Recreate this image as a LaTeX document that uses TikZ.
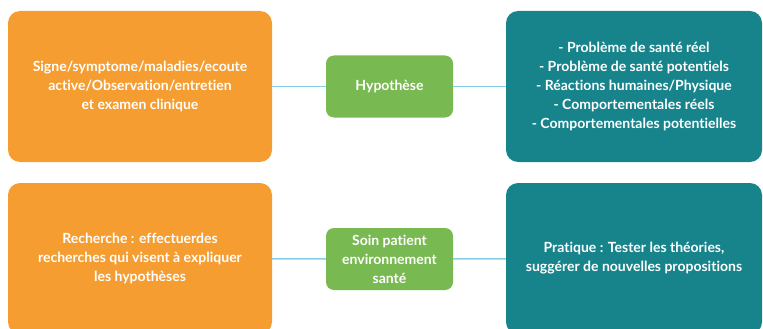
\documentclass[tikz,border=0pt]{standalone}
\usepackage{fontspec}
\setmainfont[Ligatures=NoCommon]{Lato}
\usepackage{xcolor}
\definecolor{orangebox}{HTML}{F59D31}
\definecolor{greenbox}{HTML}{78B951}
\definecolor{tealbox}{HTML}{17848C}
\definecolor{linkblue}{HTML}{86CDEB}
\usetikzlibrary{positioning}

\begin{document}
\begin{tikzpicture}[x=1pt, y=-1pt,
	box/.style={rounded corners=12pt, text=white, align=center, inner sep=0pt,
		font=\bfseries\fontsize{14}{19}\selectfont},
	bigbox/.style={box, minimum width=264pt, minimum height=151pt},
	midbox/.style={box, fill=greenbox, minimum width=127pt, minimum height=62pt, rounded corners=8pt},
	link/.style={draw=linkblue, line width=1.5pt}]
	\useasboundingbox (0,0) rectangle (763,329);
	% top row
	\node[bigbox, fill=orangebox] (sign) at (140,86.5) {Signe/symptome/maladies/ecoute\\active/Observation/entretien\\et examen clinique};
	\node[midbox] (hypo) at (389.5,86.5) {Hypothèse};
	\node[bigbox, fill=tealbox, minimum width=256pt] (prob) at (634,86.5) {- Problème de santé réel\\- Problème de santé potentiels\\- Réactions humaines/Physique\\- Comportementales réels\\- Comportementales potentielles};
	% bottom row
	\node[bigbox, fill=orangebox] (rech) at (140,258.5) {Recherche : effectuerdes\\recherches qui visent à expliquer\\les hypothèses};
	\node[midbox] (soin) at (389.5,259) {Soin patient\\environnement\\santé};
	\node[bigbox, fill=tealbox, minimum width=256pt] (prat) at (634,258.5) {Pratique : Tester les théories,\\suggérer de nouvelles propositions};
	\draw[link] (sign) -- (hypo) -- (prob);
	\draw[link] (rech) -- (soin) -- (prat);
\end{tikzpicture}
\end{document}
